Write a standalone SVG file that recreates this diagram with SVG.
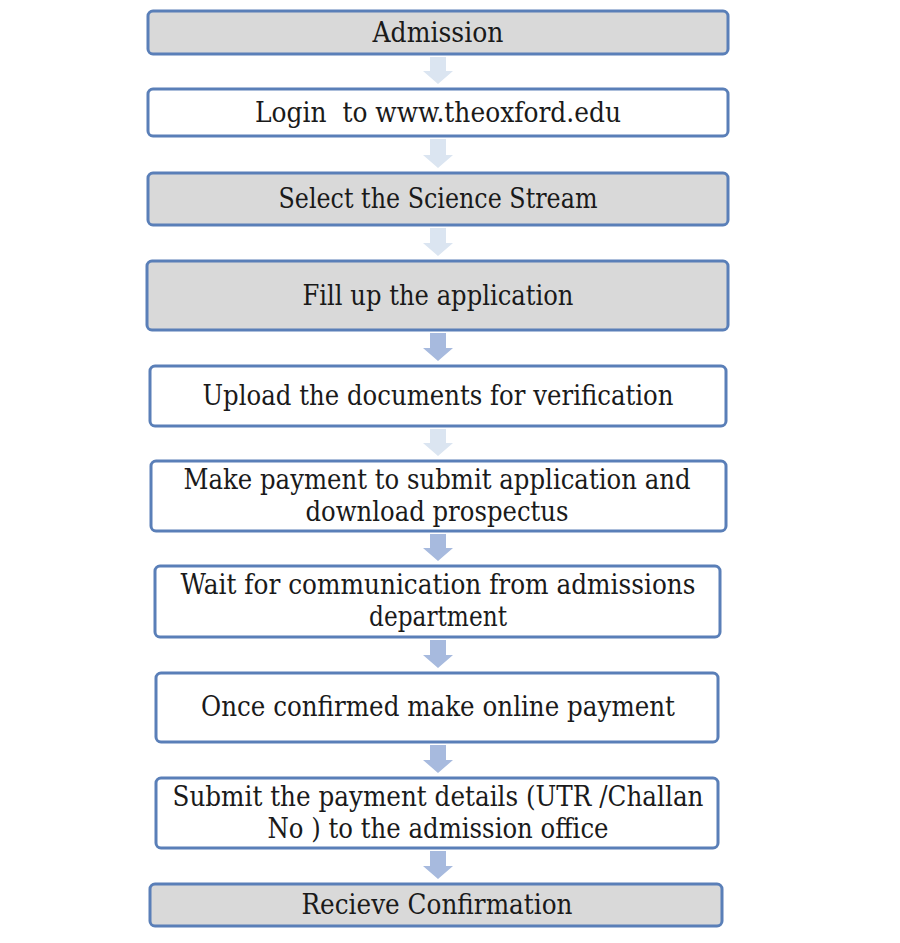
<svg xmlns="http://www.w3.org/2000/svg" width="900" height="943" viewBox="0 0 900 943">
<style>
.box{stroke:#5a7fb8;stroke-width:3;}
.g{fill:#d9d9d9;}
.w{fill:#ffffff;}
.t{font-family:'DejaVu Serif',serif;font-size:27px;fill:#1a1a1a;text-anchor:middle;}
.al{fill:#dbe5f1;}
.ad{fill:#a7bade;}
</style>
<rect width="900" height="943" fill="#ffffff"/>
<g id="connectors">
<path class="al" d="M430,57 H446 V71 H453 L438,84 L423,71 H430 Z"/>
<path class="al" d="M430,139 H446 V155 H453 L438,168 L423,155 H430 Z"/>
<path class="al" d="M430,228 H446 V243 H453 L438,256 L423,243 H430 Z"/>
<path class="ad" d="M430,333 H446 V348 H453 L438,361 L423,348 H430 Z"/>
<path class="al" d="M430,429 H446 V443 H453 L438,456 L423,443 H430 Z"/>
<path class="ad" d="M430,534 H446 V548 H453 L438,561 L423,548 H430 Z"/>
<path class="ad" d="M430,640 H446 V655 H453 L438,668 L423,655 H430 Z"/>
<path class="ad" d="M430,745 H446 V760 H453 L438,773 L423,760 H430 Z"/>
<path class="ad" d="M430,851 H446 V866 H453 L438,879 L423,866 H430 Z"/>
</g>
<g id="n1"><rect class="box g" x="148" y="11" width="580" height="43" rx="5"/><text class="t" x="438" y="42" textLength="131" lengthAdjust="spacingAndGlyphs">Admission</text></g>
<g id="n2"><rect class="box w" x="148" y="89" width="580" height="47" rx="5"/><text class="t" x="438" y="122" xml:space="preserve" textLength="366" lengthAdjust="spacingAndGlyphs">Login  to www.theoxford.edu</text></g>
<g id="n3"><rect class="box g" x="148" y="173" width="580" height="52" rx="5"/><text class="t" x="438" y="208" textLength="319" lengthAdjust="spacingAndGlyphs">Select the Science Stream</text></g>
<g id="n4"><rect class="box g" x="147" y="261" width="581" height="69" rx="5"/><text class="t" x="438" y="305" textLength="271" lengthAdjust="spacingAndGlyphs">Fill up the application</text></g>
<g id="n5"><rect class="box w" x="150" y="366" width="576" height="60" rx="5"/><text class="t" x="438" y="405" textLength="471" lengthAdjust="spacingAndGlyphs">Upload the documents for verification</text></g>
<g id="n6"><rect class="box w" x="151" y="461" width="575" height="70" rx="5"/><text class="t" x="437" y="489" textLength="507" lengthAdjust="spacingAndGlyphs">Make payment to submit application and</text><text class="t" x="437" y="521" textLength="263" lengthAdjust="spacingAndGlyphs">download prospectus</text></g>
<g id="n7"><rect class="box w" x="155" y="566" width="565" height="71" rx="5"/><text class="t" x="438" y="594" textLength="515" lengthAdjust="spacingAndGlyphs">Wait for communication from admissions</text><text class="t" x="438" y="626" textLength="138" lengthAdjust="spacingAndGlyphs">department</text></g>
<g id="n8"><rect class="box w" x="156" y="673" width="562" height="69" rx="5"/><text class="t" x="438" y="716" textLength="474" lengthAdjust="spacingAndGlyphs">Once confirmed make online payment</text></g>
<g id="n9"><rect class="box w" x="156" y="778" width="562" height="70" rx="5"/><text class="t" x="438" y="806" textLength="531" lengthAdjust="spacingAndGlyphs">Submit the payment details (UTR /Challan</text><text class="t" x="438" y="838" textLength="341" lengthAdjust="spacingAndGlyphs">No ) to the admission office</text></g>
<g id="n10"><rect class="box g" x="150" y="884" width="572" height="42" rx="5"/><text class="t" x="437" y="914" textLength="271" lengthAdjust="spacingAndGlyphs">Recieve Confirmation</text></g>
</svg>
